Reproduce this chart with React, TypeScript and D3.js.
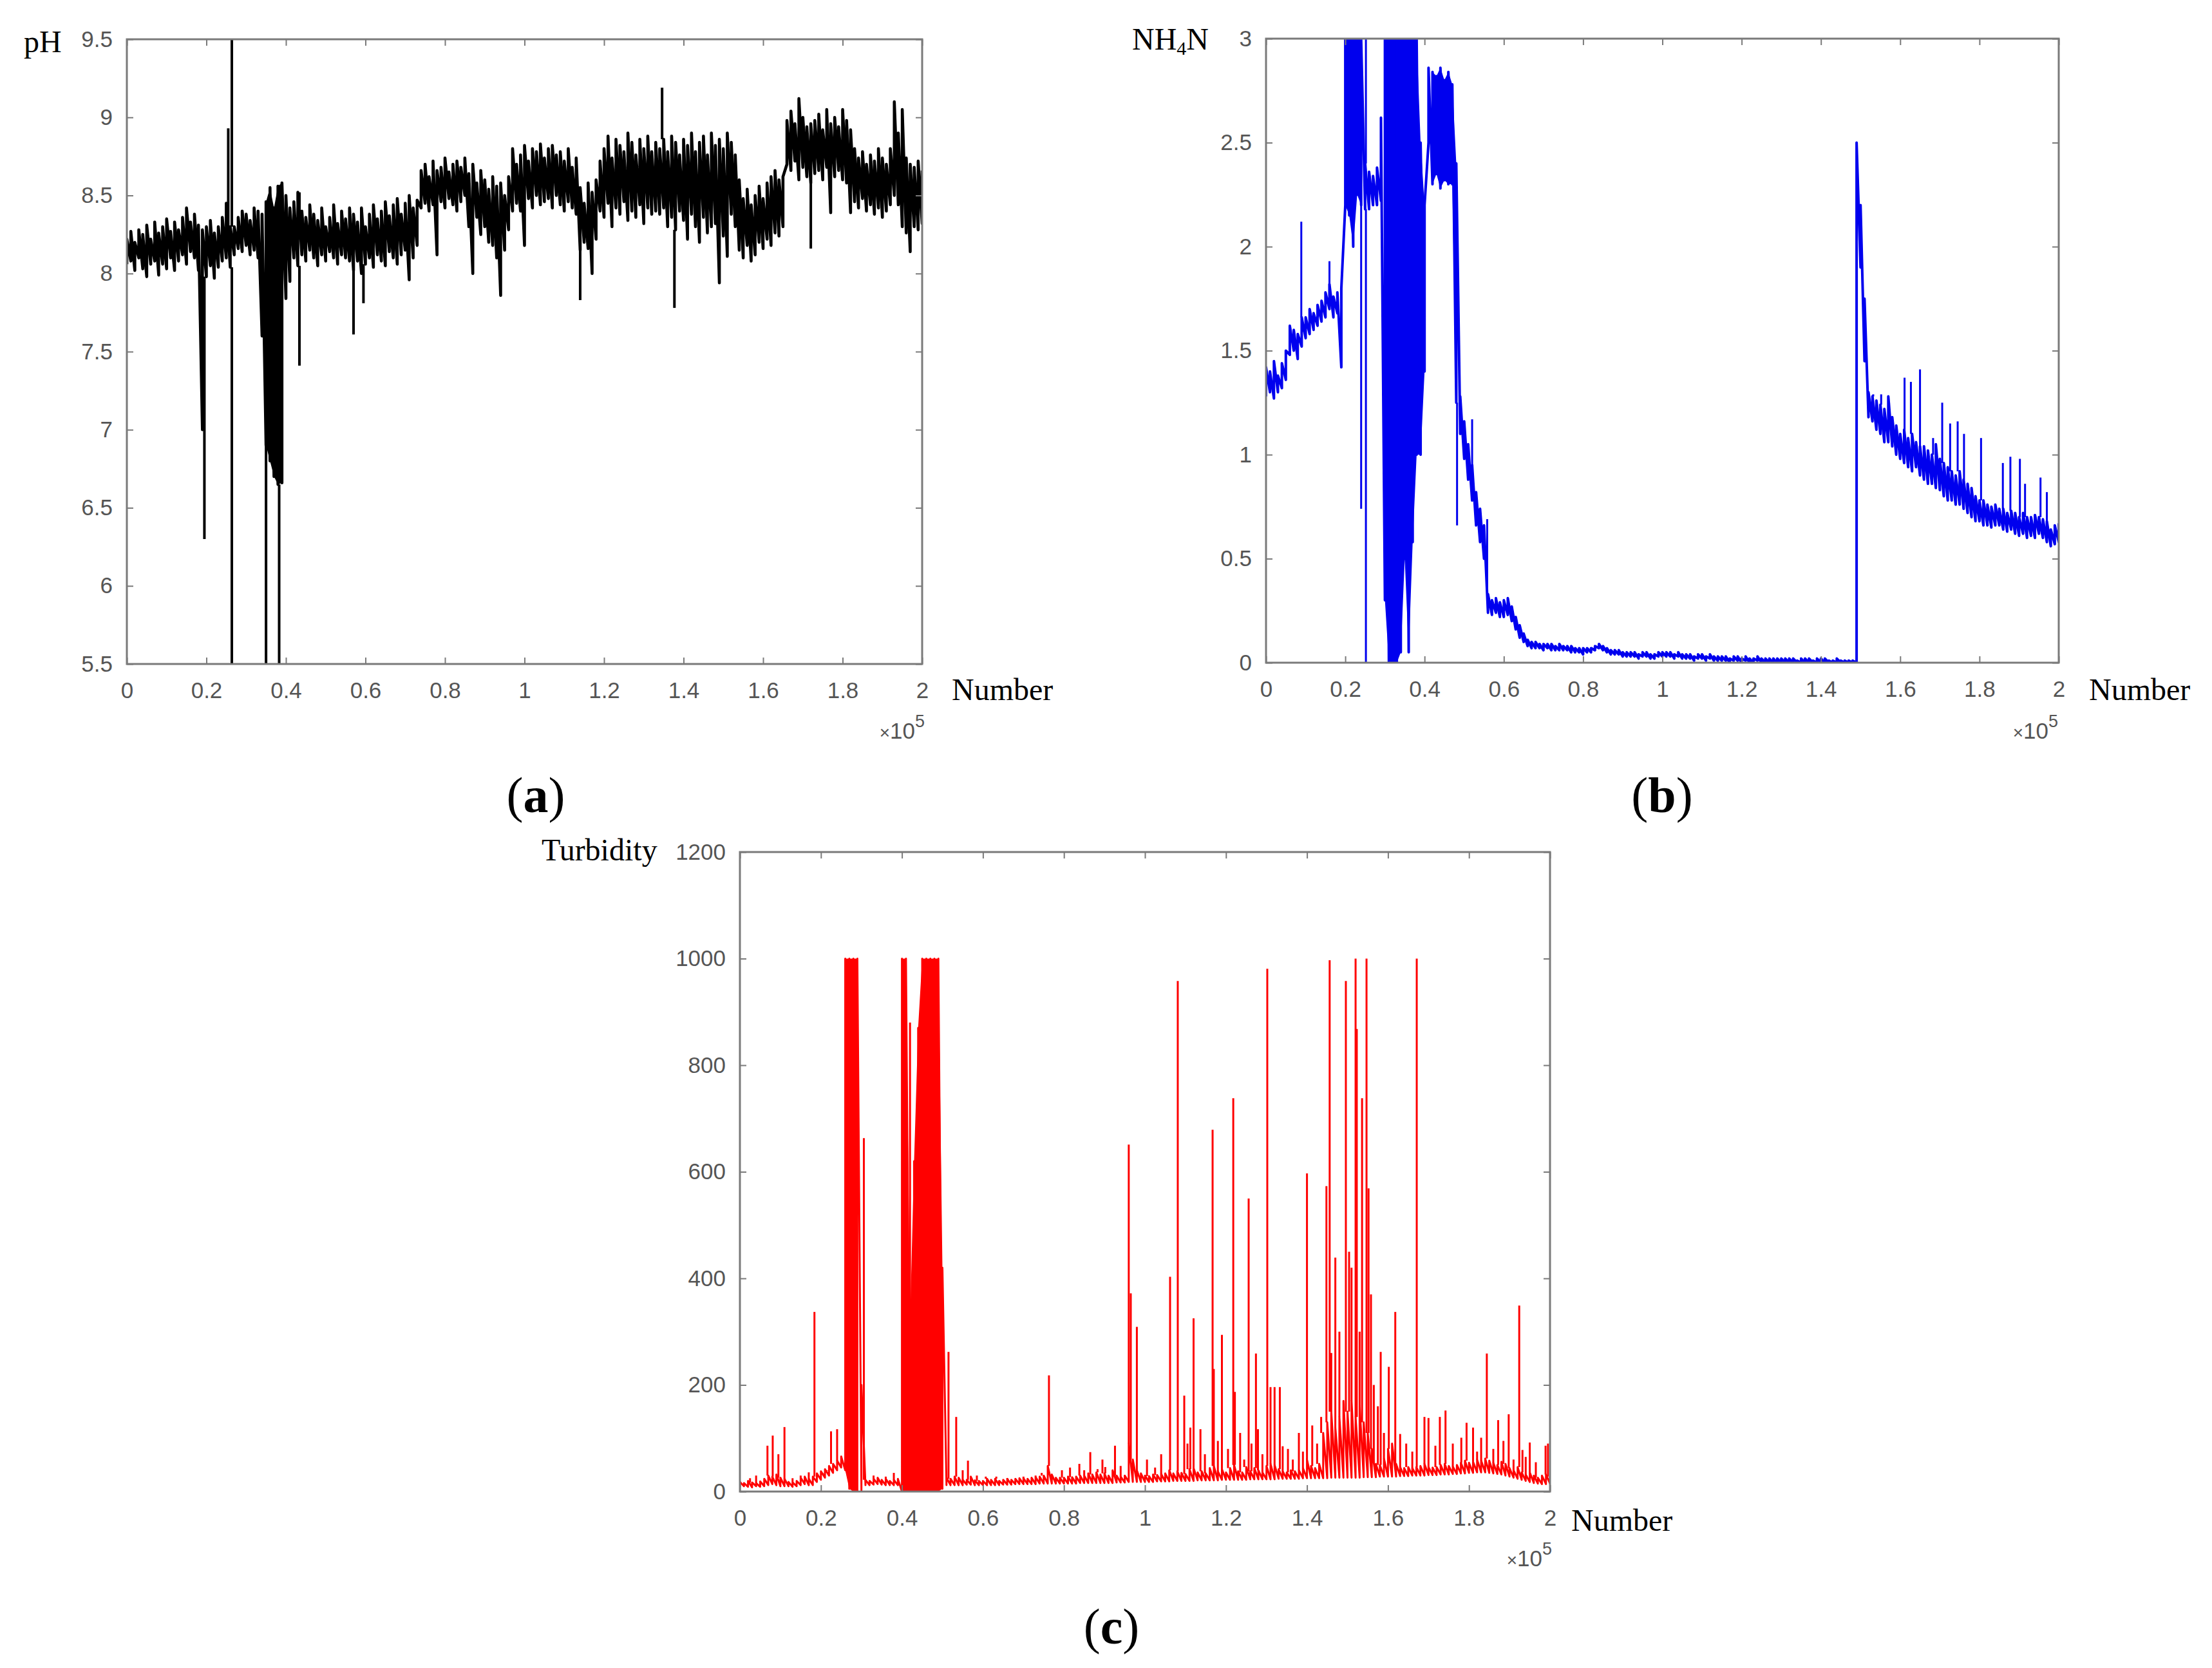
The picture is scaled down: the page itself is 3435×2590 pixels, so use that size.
import React, { useEffect, useRef } from 'react'
import * as d3 from 'd3'

// samples are binned every 1000 points; each bin keeps its low / high envelope
const step = 1000
const xTickVals = d3.range(0, 200001, 20000)
const phTickVals = d3.range(5.5, 9.51, 0.5)
const nhTickVals = d3.range(0, 3.01, 0.5)
const turbTickVals = d3.range(0, 1201, 200)

const phHi = [
  8.22, 8.27, 8.2, 8.28, 8.25, 8.31, 8.22, 8.33, 8.26, 8.3,
  8.35, 8.27, 8.33, 8.28, 8.36, 8.42, 8.33, 8.38, 8.31, 8.28,
  8.3, 8.34, 8.26, 8.3, 8.36, 8.45, 8.3, 8.3, 8.36, 8.4,
  8.38, 8.34, 8.42, 8.4, 8.38, 8.46, 8.55, 8.42, 8.56, 8.58,
  8.5, 8.42, 8.46, 8.52, 8.4, 8.36, 8.44, 8.38, 8.34, 8.42,
  8.3, 8.36, 8.44, 8.32, 8.4, 8.35, 8.42, 8.38, 8.33, 8.42,
  8.3, 8.38, 8.44, 8.35, 8.4, 8.46, 8.37, 8.44, 8.48, 8.38,
  8.45, 8.5, 8.42, 8.47, 8.66, 8.7, 8.62, 8.72, 8.66, 8.68,
  8.74, 8.65, 8.7, 8.72, 8.68, 8.74, 8.64, 8.7, 8.58, 8.66,
  8.6, 8.54, 8.62, 8.56, 8.58, 8.5, 8.62, 8.8, 8.7, 8.76,
  8.82, 8.72, 8.8, 8.78, 8.83, 8.74, 8.8, 8.82, 8.76, 8.78,
  8.72, 8.8, 8.68, 8.74, 8.55, 8.45, 8.58, 8.52, 8.6, 8.72,
  8.8, 8.88, 8.74, 8.86, 8.82, 8.78, 8.9, 8.84, 8.76, 8.86,
  8.8, 8.88, 8.78, 8.84, 8.8, 8.86, 8.78, 8.88, 8.84, 8.76,
  8.86, 8.82, 8.9, 8.78, 8.84, 8.88, 8.76, 8.9, 8.82, 8.86,
  8.8, 8.9, 8.84, 8.76, 8.6, 8.48, 8.54, 8.44, 8.5, 8.56,
  8.48, 8.58, 8.62, 8.66, 8.6, 8.62, 8.98, 9.04, 8.96, 9.12,
  9.0, 8.94, 8.96, 8.98, 9.02, 8.92, 9.05, 8.96, 9.0, 8.94,
  9.05, 8.98, 8.92, 8.8, 8.74, 8.78, 8.7, 8.76, 8.72, 8.8,
  8.74, 8.7, 8.8, 9.1, 8.9, 9.05, 8.74, 8.7, 8.68, 8.72,
  8.66,
]
const phLo = [
  8.06, 8.08, 8.02, 8.1, 8.03, 7.98, 8.06, 8.08, 7.99, 8.06,
  8.03, 8.1, 8.02, 8.08, 8.12, 8.06, 8.14, 8.1, 8.02, 7.0,
  7.98, 8.05, 7.97, 8.04, 8.08, 8.1, 8.04, 8.12, 8.16, 8.14,
  8.18, 8.12, 8.15, 8.1, 7.6, 6.9, 6.8, 6.7, 6.65, 6.66,
  7.84, 7.95, 8.1, 8.05, 8.12, 8.08, 8.15, 8.1, 8.05, 8.12,
  8.08, 8.14, 8.1, 8.06, 8.12, 8.1, 8.08, 8.02, 8.08, 8.0,
  8.06, 8.1, 8.04, 8.12, 8.08, 8.05, 8.14, 8.1, 8.06, 8.12,
  8.15, 7.96, 8.1, 8.18, 8.42, 8.45, 8.4, 8.44, 8.12, 8.46,
  8.42, 8.48, 8.44, 8.4, 8.46, 8.5, 8.3, 8.0, 8.36, 8.25,
  8.3, 8.2, 8.18, 8.1, 7.86, 8.15, 8.28, 8.4, 8.45, 8.4,
  8.18, 8.48, 8.42, 8.5, 8.44, 8.46, 8.48, 8.42, 8.5, 8.44,
  8.4, 8.46, 8.42, 8.38, 8.15, 8.2, 8.16, 8.0, 8.22, 8.4,
  8.36, 8.45, 8.3, 8.42, 8.38, 8.46, 8.34, 8.4, 8.36, 8.44,
  8.32, 8.42, 8.38, 8.4, 8.38, 8.42, 8.3, 8.36, 8.28, 8.4,
  8.34, 8.22, 8.38, 8.3, 8.2, 8.36, 8.26, 8.3, 8.32, 7.94,
  8.24, 8.11, 8.38, 8.3, 8.15, 8.1, 8.18, 8.08, 8.12, 8.2,
  8.16, 8.22, 8.18, 8.26, 8.24, 8.3, 8.7, 8.66, 8.72, 8.6,
  8.68, 8.62, 8.58, 8.64, 8.66, 8.6, 8.68, 8.39, 8.62, 8.66,
  8.6, 8.58, 8.39, 8.46, 8.42, 8.48, 8.4, 8.44, 8.38, 8.42,
  8.36, 8.4, 8.44, 8.5, 8.44, 8.3, 8.26, 8.14, 8.3, 8.28,
  8.32,
]
const phSpikeAt = [19500, 25500, 26400, 26400, 35000, 38300, 43400, 43400, 57000, 59500, 114000, 134600, 137700, 172000]
const phSpikeVal = [6.3, 8.93, 9.5, 5.5, 5.5, 5.5, 7.41, 8.52, 7.61, 7.81, 7.83, 9.19, 7.78, 8.16]

const nhHi = [
  1.42, 1.4, 1.45, 1.38, 1.44, 1.5, 1.62, 1.6, 1.58, 1.66,
  1.66, 1.7, 1.68, 1.72, 1.74, 1.78, 1.82, 1.76, 1.78, 1.8,
  3, 3, 3, 3, 3, 2.4, 2.36, 2.34, 2.38, 2.62,
  3, 3, 3, 3, 3, 3, 3, 3, 3, 2.5,
  2.2, 2.86, 2.84, 2.82, 2.86, 2.8, 2.84, 2.78, 2.4, 1.28,
  1.16, 1.05, 0.95, 0.82, 0.74, 0.66, 0.33, 0.3, 0.31, 0.29,
  0.3, 0.31, 0.27, 0.22, 0.18, 0.14, 0.11, 0.1, 0.1, 0.09,
  0.09, 0.09, 0.09, 0.08, 0.09, 0.08, 0.08, 0.08, 0.07, 0.07,
  0.07, 0.07, 0.07, 0.08, 0.09, 0.08, 0.07, 0.06, 0.06, 0.06,
  0.05, 0.05, 0.05, 0.05, 0.04, 0.05, 0.05, 0.04, 0.04, 0.05,
  0.05, 0.05, 0.05, 0.04, 0.05, 0.04, 0.04, 0.04, 0.03, 0.04,
  0.04, 0.03, 0.04, 0.03, 0.03, 0.03, 0.03, 0.02, 0.03, 0.03,
  0.02, 0.03, 0.02, 0.02, 0.03, 0.02, 0.02, 0.02, 0.02, 0.02,
  0.02, 0.02, 0.02, 0.02, 0.01, 0.02, 0.02, 0.02, 0.01, 0.02,
  0.02, 0.02, 0.01, 0.01, 0.02, 0.01, 0.01, 0.01, 0.01, 2.5,
  2.2, 1.75, 1.3, 1.28, 1.26, 1.24, 1.22, 1.28, 1.18, 1.14,
  1.1, 1.12, 1.08, 1.1, 1.06, 1.04, 1.04, 1.02, 1.0, 1.05,
  0.98, 0.96, 0.94, 0.92, 0.9, 0.92, 0.88, 0.86, 0.84, 0.8,
  0.78, 0.78, 0.76, 0.75, 0.76, 0.74, 0.74, 0.72, 0.73, 0.72,
  0.7, 0.72, 0.7, 0.7, 0.71, 0.7, 0.69, 0.68, 0.64, 0.66,
  0.67,
]
const nhLo = [
  1.28, 1.3, 1.27, 1.3, 1.32, 1.36, 1.48, 1.5, 1.46, 1.52,
  1.56, 1.58, 1.6, 1.62, 1.64, 1.66, 1.7, 1.66, 1.68, 1.42,
  2.2, 2.15, 2.0, 2.25, 2.2, 2.18, 2.18, 2.2, 2.2, 2.22,
  0.3, 0, 0, 0, 0.05, 0.5, 0.05, 0.58, 1.0, 1.0,
  1.4, 2.5, 2.3, 2.35, 2.28, 2.32, 2.3, 2.3, 1.25, 1.1,
  0.98, 0.88, 0.78, 0.66, 0.58, 0.5, 0.24, 0.23, 0.24, 0.22,
  0.22, 0.23, 0.2, 0.16, 0.12, 0.1, 0.08, 0.07, 0.07, 0.07,
  0.06, 0.07, 0.06, 0.06, 0.06, 0.06, 0.06, 0.05, 0.05, 0.05,
  0.04, 0.05, 0.05, 0.06, 0.07, 0.06, 0.05, 0.04, 0.04, 0.04,
  0.03, 0.03, 0.03, 0.03, 0.02, 0.03, 0.03, 0.02, 0.02, 0.03,
  0.03, 0.03, 0.03, 0.02, 0.03, 0.02, 0.02, 0.02, 0.01, 0.02,
  0.02, 0.01, 0.02, 0.01, 0.01, 0.01, 0.01, 0, 0.01, 0.01,
  0, 0.01, 0, 0, 0.01, 0, 0, 0, 0, 0,
  0, 0, 0, 0, 0, 0, 0, 0, 0, 0,
  0, 0, 0, 0, 0, 0, 0, 0, 0, 0,
  1.9, 1.45, 1.18, 1.16, 1.12, 1.1, 1.06, 1.06, 1.04, 1.0,
  0.98, 0.96, 0.94, 0.92, 0.94, 0.9, 0.88, 0.86, 0.86, 0.84,
  0.83, 0.8, 0.78, 0.78, 0.76, 0.76, 0.74, 0.72, 0.7, 0.68,
  0.68, 0.66, 0.66, 0.65, 0.66, 0.66, 0.64, 0.63, 0.64, 0.62,
  0.61, 0.62, 0.6, 0.61, 0.6, 0.62, 0.6, 0.58, 0.56, 0.57,
  0.58,
]
const nhSpikeAt = [8900, 16000, 24000, 25200, 25200, 29600, 48200, 52000, 55800, 153200, 155200, 157200, 161100, 162700, 165000, 168300, 170600, 172600, 174500, 176100, 180400, 185900, 187800, 190200, 191500, 195400, 197000]
const nhSpikeVal = [2.12, 1.93, 0.74, 0, 3, 1.8, 0.66, 1.17, 0.69, 1.29, 1.29, 1.25, 1.37, 1.35, 1.41, 1.08, 1.25, 1.15, 1.16, 1.1, 1.08, 0.96, 0.99, 0.98, 0.86, 0.89, 0.82]

const turbHi = [
  18, 16, 20, 17, 16, 19, 24, 30, 28, 32,
  26, 24, 18, 17, 20, 26, 28, 24, 28, 34,
  38, 42, 48, 52, 58, 66, 1000, 1000, 1000, 1000,
  200, 22, 20, 24, 26, 22, 24, 20, 22, 24,
  1000, 1000, 320, 620, 870, 1000, 1000, 1000, 1000, 1000,
  420, 26, 24, 28, 26, 22, 22, 28, 21, 20,
  20, 24, 22, 24, 20, 22, 24, 22, 24, 25,
  25, 24, 26, 27, 28, 30, 48, 32, 26, 26,
  26, 28, 27, 28, 30, 30, 34, 32, 36, 32,
  34, 30, 40, 30, 28, 30, 90, 60, 40, 34,
  30, 29, 32, 31, 33, 34, 40, 34, 38, 35,
  33, 42, 44, 36, 38, 34, 44, 48, 38, 42,
  36, 44, 50, 38, 36, 46, 38, 44, 40, 36,
  48, 52, 50, 42, 38, 36, 40, 38, 40, 44,
  60, 48, 44, 52, 110, 130, 150, 120, 140, 170,
  150, 170, 140, 160, 130, 110, 80, 52, 50, 62,
  80, 90, 52, 46, 44, 46, 44, 46, 48, 52,
  46, 45, 46, 50, 52, 48, 47, 50, 54, 58,
  54, 56, 60, 58, 62, 58, 54, 50, 56, 52,
  44, 40, 46, 36, 32, 36, 30, 26, 30, 32,
  28,
]
const turbLo = [
  8, 10, 9, 8, 10, 9, 10, 12, 14, 12,
  10, 10, 10, 9, 10, 12, 14, 12, 12, 18,
  22, 26, 30, 35, 40, 45, 40, 5, 0, 0,
  2, 12, 12, 13, 14, 13, 12, 12, 12, 12,
  0, 0, 0, 0, 0, 0, 0, 0, 0, 0,
  5, 12, 12, 12, 12, 12, 13, 13, 12, 12,
  12, 12, 12, 12, 12, 13, 13, 13, 14, 14,
  14, 14, 14, 14, 15, 15, 15, 15, 15, 15,
  15, 15, 15, 15, 16, 16, 16, 16, 16, 16,
  16, 16, 16, 17, 17, 17, 18, 18, 18, 18,
  18, 18, 18, 19, 19, 19, 19, 20, 20, 20,
  20, 20, 20, 21, 21, 21, 21, 21, 21, 22,
  22, 22, 22, 22, 22, 22, 23, 23, 23, 23,
  23, 23, 23, 24, 24, 24, 24, 24, 24, 25,
  25, 25, 25, 25, 25, 25, 26, 26, 26, 26,
  26, 26, 26, 26, 27, 27, 27, 27, 28, 28,
  28, 28, 28, 29, 29, 29, 30, 30, 30, 30,
  31, 31, 31, 32, 32, 32, 33, 33, 34, 34,
  35, 35, 36, 36, 36, 35, 34, 33, 32, 30,
  28, 26, 24, 22, 20, 18, 16, 15, 14, 14,
  15,
]
const turbSpikeAt = [
  2500, 4000, 6800, 8100, 9500, 11000, 13000, 15000, 17000, 18400, 20500, 21500, 22500, 24000, 30600, 33000,
  36000, 38000, 42000, 51500, 53400, 55000, 56300, 58500, 60700, 63300, 66000, 70000, 73000, 74500, 76300,
  79500, 81500, 83800, 85000, 86500, 88300, 89500, 90200, 92600, 94000, 96000, 96500, 98000, 100500, 102500,
  104000, 106200, 108100, 109700, 110500, 111200, 112000, 113700, 114800, 116700, 117000, 118000, 119000,
  120500, 121800, 122200, 123500, 124500, 125600, 126300, 127400, 127900, 129000, 130200, 131000, 132000,
  133300, 134000, 135300, 136500, 138000, 139000, 140000, 141300, 142500, 143500, 144800, 145600, 146000,
  147000, 148000, 149600, 150400, 151000, 152000, 152300, 153000, 153600, 154700, 155200, 155800, 156500,
  157500, 158200, 159000, 160200, 161800, 163000, 164500, 166000, 167100, 169000, 170000, 171700, 172800,
  174200, 176000, 178100, 179400, 181000, 182000, 183000, 184400, 186000, 187200, 188500, 189800, 191000,
  192400, 193200, 194000, 195000, 196500, 198900, 199500,
]
const turbSpikeVal = [
  25, 30, 86, 105, 70, 121, 25, 30, 36, 337, 35, 40, 113, 117, 663, 30,
  28, 35, 880, 262, 140, 40, 58, 30, 28, 28, 25, 28, 30, 35, 218,
  40, 45, 52, 40, 74, 42, 60, 46, 86, 48, 651, 372, 309, 60, 45,
  70, 403, 958, 180, 90, 120, 325, 117, 70, 679, 230, 95, 294,
  80, 738, 187, 110, 60, 550, 90, 259, 117, 70, 981, 196, 196,
  196, 85, 80, 60, 110, 75, 597, 124, 90, 140, 573, 997, 260,
  439, 300, 958, 450, 420, 1000, 868, 300, 738, 1000, 569, 370, 200,
  160, 262, 110, 234, 337, 108, 90, 75, 1000, 140, 138, 86, 140,
  152, 90, 101, 129, 120, 75, 101, 259, 80, 134, 95, 145, 60,
  349, 78, 65, 92, 55, 86, 90,
]

const axisGray = '#7a7a7a'
const tickGray = '#555555'
const sans = 'Liberation Sans, Arial, sans-serif'
const serif = 'Liberation Serif, Times New Roman, serif'
const fmt = d3.format('~g')

type PanelProps = {
  id: string
  l: number
  t: number
  r: number
  b: number
  yDomain: [number, number]
  yTicks: number[]
  hi: number[]
  lo: number[]
  spikeAt: number[]
  spikeVal: number[]
  color: string
  lineWidth: number
  spikeWidth: number
  fillMin: number
}

function Panel(p: PanelProps) {
  const ref = useRef<SVGGElement>(null)

  useEffect(() => {
    const g = d3.select(ref.current)
    g.selectAll('*').remove()

    const x = d3.scaleLinear().domain([0, 200000]).range([p.l, p.r])
    const y = d3.scaleLinear().domain(p.yDomain).range([p.b, p.t])

    g.append('clipPath').attr('id', p.id)
      .append('rect')
      .attr('x', p.l).attr('y', p.t)
      .attr('width', p.r - p.l).attr('height', p.b - p.t)

    const plot = g.append('g').attr('clip-path', `url(#${p.id})`)

    // wide bins (saturated stretches) are filled solid
    const band = d3.area<number>()
      .defined((d, i) => d - p.lo[i] >= p.fillMin)
      .x((_, i) => x(i * step))
      .y0((_, i) => y(p.lo[i]))
      .y1(d => y(d))
    plot.append('path')
      .datum(p.hi)
      .attr('d', band)
      .attr('fill', p.color)

    // every bin drawn as its low-to-high swing, joined to the next bin
    const swing: [number, number][] = []
    p.hi.forEach((h, i) => {
      swing.push([i * step, p.lo[i]])
      swing.push([i * step, h])
    })
    const line = d3.line<[number, number]>().x(d => x(d[0])).y(d => y(d[1]))
    plot.append('path')
      .datum(swing)
      .attr('d', line)
      .attr('fill', 'none')
      .attr('stroke', p.color)
      .attr('stroke-width', p.lineWidth)
      .attr('stroke-linejoin', 'round')

    p.spikeAt.forEach((at, k) => {
      const v = p.spikeVal[k]
      const bin = Math.round(at / step)
      const base = v > p.hi[bin] ? p.hi[bin] : v < p.lo[bin] ? p.lo[bin] : (p.hi[bin] + p.lo[bin]) / 2
      plot.append('path')
        .datum([[at, base], [at, v]] as [number, number][])
        .attr('d', line)
        .attr('fill', 'none')
        .attr('stroke', p.color)
        .attr('stroke-width', p.spikeWidth)
    })

    const style = (sel: any) => {
      sel.select('.domain').remove()
      sel.selectAll('line').attr('stroke', axisGray).attr('stroke-width', 2)
      sel.selectAll('text')
        .attr('fill', tickGray)
        .attr('font-family', sans)
        .attr('font-size', 35)
    }

    g.append('g')
      .attr('transform', `translate(0,${p.b})`)
      .call(d3.axisBottom(x).tickValues(xTickVals).tickSize(-10).tickPadding(28).tickFormat(d => fmt(+d / 1e5)))
      .call(style)
    g.append('g')
      .attr('transform', `translate(0,${p.t})`)
      .call(d3.axisTop(x).tickValues(xTickVals).tickSize(-10).tickFormat(() => ''))
      .call(style)
    g.append('g')
      .attr('transform', `translate(${p.l},0)`)
      .call(d3.axisLeft(y).tickValues(p.yTicks).tickSize(-10).tickPadding(22).tickFormat(d => fmt(+d)))
      .call(style)
    g.append('g')
      .attr('transform', `translate(${p.r},0)`)
      .call(d3.axisRight(y).tickValues(p.yTicks).tickSize(-10).tickFormat(() => ''))
      .call(style)

    g.append('rect')
      .attr('x', p.l).attr('y', p.t)
      .attr('width', p.r - p.l).attr('height', p.b - p.t)
      .attr('fill', 'none')
      .attr('stroke', axisGray)
      .attr('stroke-width', 3)
  }, [])

  return <g ref={ref} />
}

function Exponent({ x, y }: { x: number; y: number }) {
  return (
    <text x={x} y={y} textAnchor="end" fontFamily={sans} fontSize={35} fill={tickGray}>
      <tspan fontSize={28}>×</tspan>10<tspan dy={-18} fontSize={27}>5</tspan>
    </text>
  )
}

function PanelTag({ x, y, letter }: { x: number; y: number; letter: string }) {
  return (
    <text x={x} y={y} textAnchor="middle" fontFamily={serif} fontSize={78} fill="#000">
      (<tspan fontWeight="bold">{letter}</tspan>)
    </text>
  )
}

function App() {
  const labelFont = { fontFamily: serif, fontSize: 48, fill: '#000' }
  return (
    <svg width={3435} height={2590} style={{ position: 'absolute', left: 0, top: 0, background: '#fff' }}>
      <Panel id="clipPh" l={197} t={61} r={1432} b={1031} yDomain={[5.5, 9.5]} yTicks={phTickVals}
        hi={phHi} lo={phLo} spikeAt={phSpikeAt} spikeVal={phSpikeVal} color="#000000"
        lineWidth={4.6} spikeWidth={4} fillMin={1} />
      <Panel id="clipNh" l={1966} t={60} r={3197} b={1029} yDomain={[0, 3]} yTicks={nhTickVals}
        hi={nhHi} lo={nhLo} spikeAt={nhSpikeAt} spikeVal={nhSpikeVal} color="#0000ee"
        lineWidth={4} spikeWidth={3} fillMin={0.4} />
      <Panel id="clipTurb" l={1149} t={1323} r={2407} b={2316} yDomain={[0, 1200]} yTicks={turbTickVals}
        hi={turbHi} lo={turbLo} spikeAt={turbSpikeAt} spikeVal={turbSpikeVal} color="#ff0000"
        lineWidth={3} spikeWidth={3} fillMin={200} />

      <text x={37} y={81} {...labelFont}>pH</text>
      <text x={1758} y={77} {...labelFont}>NH<tspan fontSize={30} dy={8}>4</tspan><tspan dy={-8}>N</tspan></text>
      <text x={841} y={1336} {...labelFont}>Turbidity</text>

      <text x={1478} y={1087} {...labelFont}>Number</text>
      <text x={3244} y={1087} {...labelFont}>Number</text>
      <text x={2440} y={2377} {...labelFont}>Number</text>

      <Exponent x={1436} y={1147} />
      <Exponent x={3196} y={1147} />
      <Exponent x={2410} y={2432} />

      <PanelTag x={832} y={1261} letter="a" />
      <PanelTag x={2581} y={1261} letter="b" />
      <PanelTag x={1726} y={2552} letter="c" />
    </svg>
  )
}

export default App
